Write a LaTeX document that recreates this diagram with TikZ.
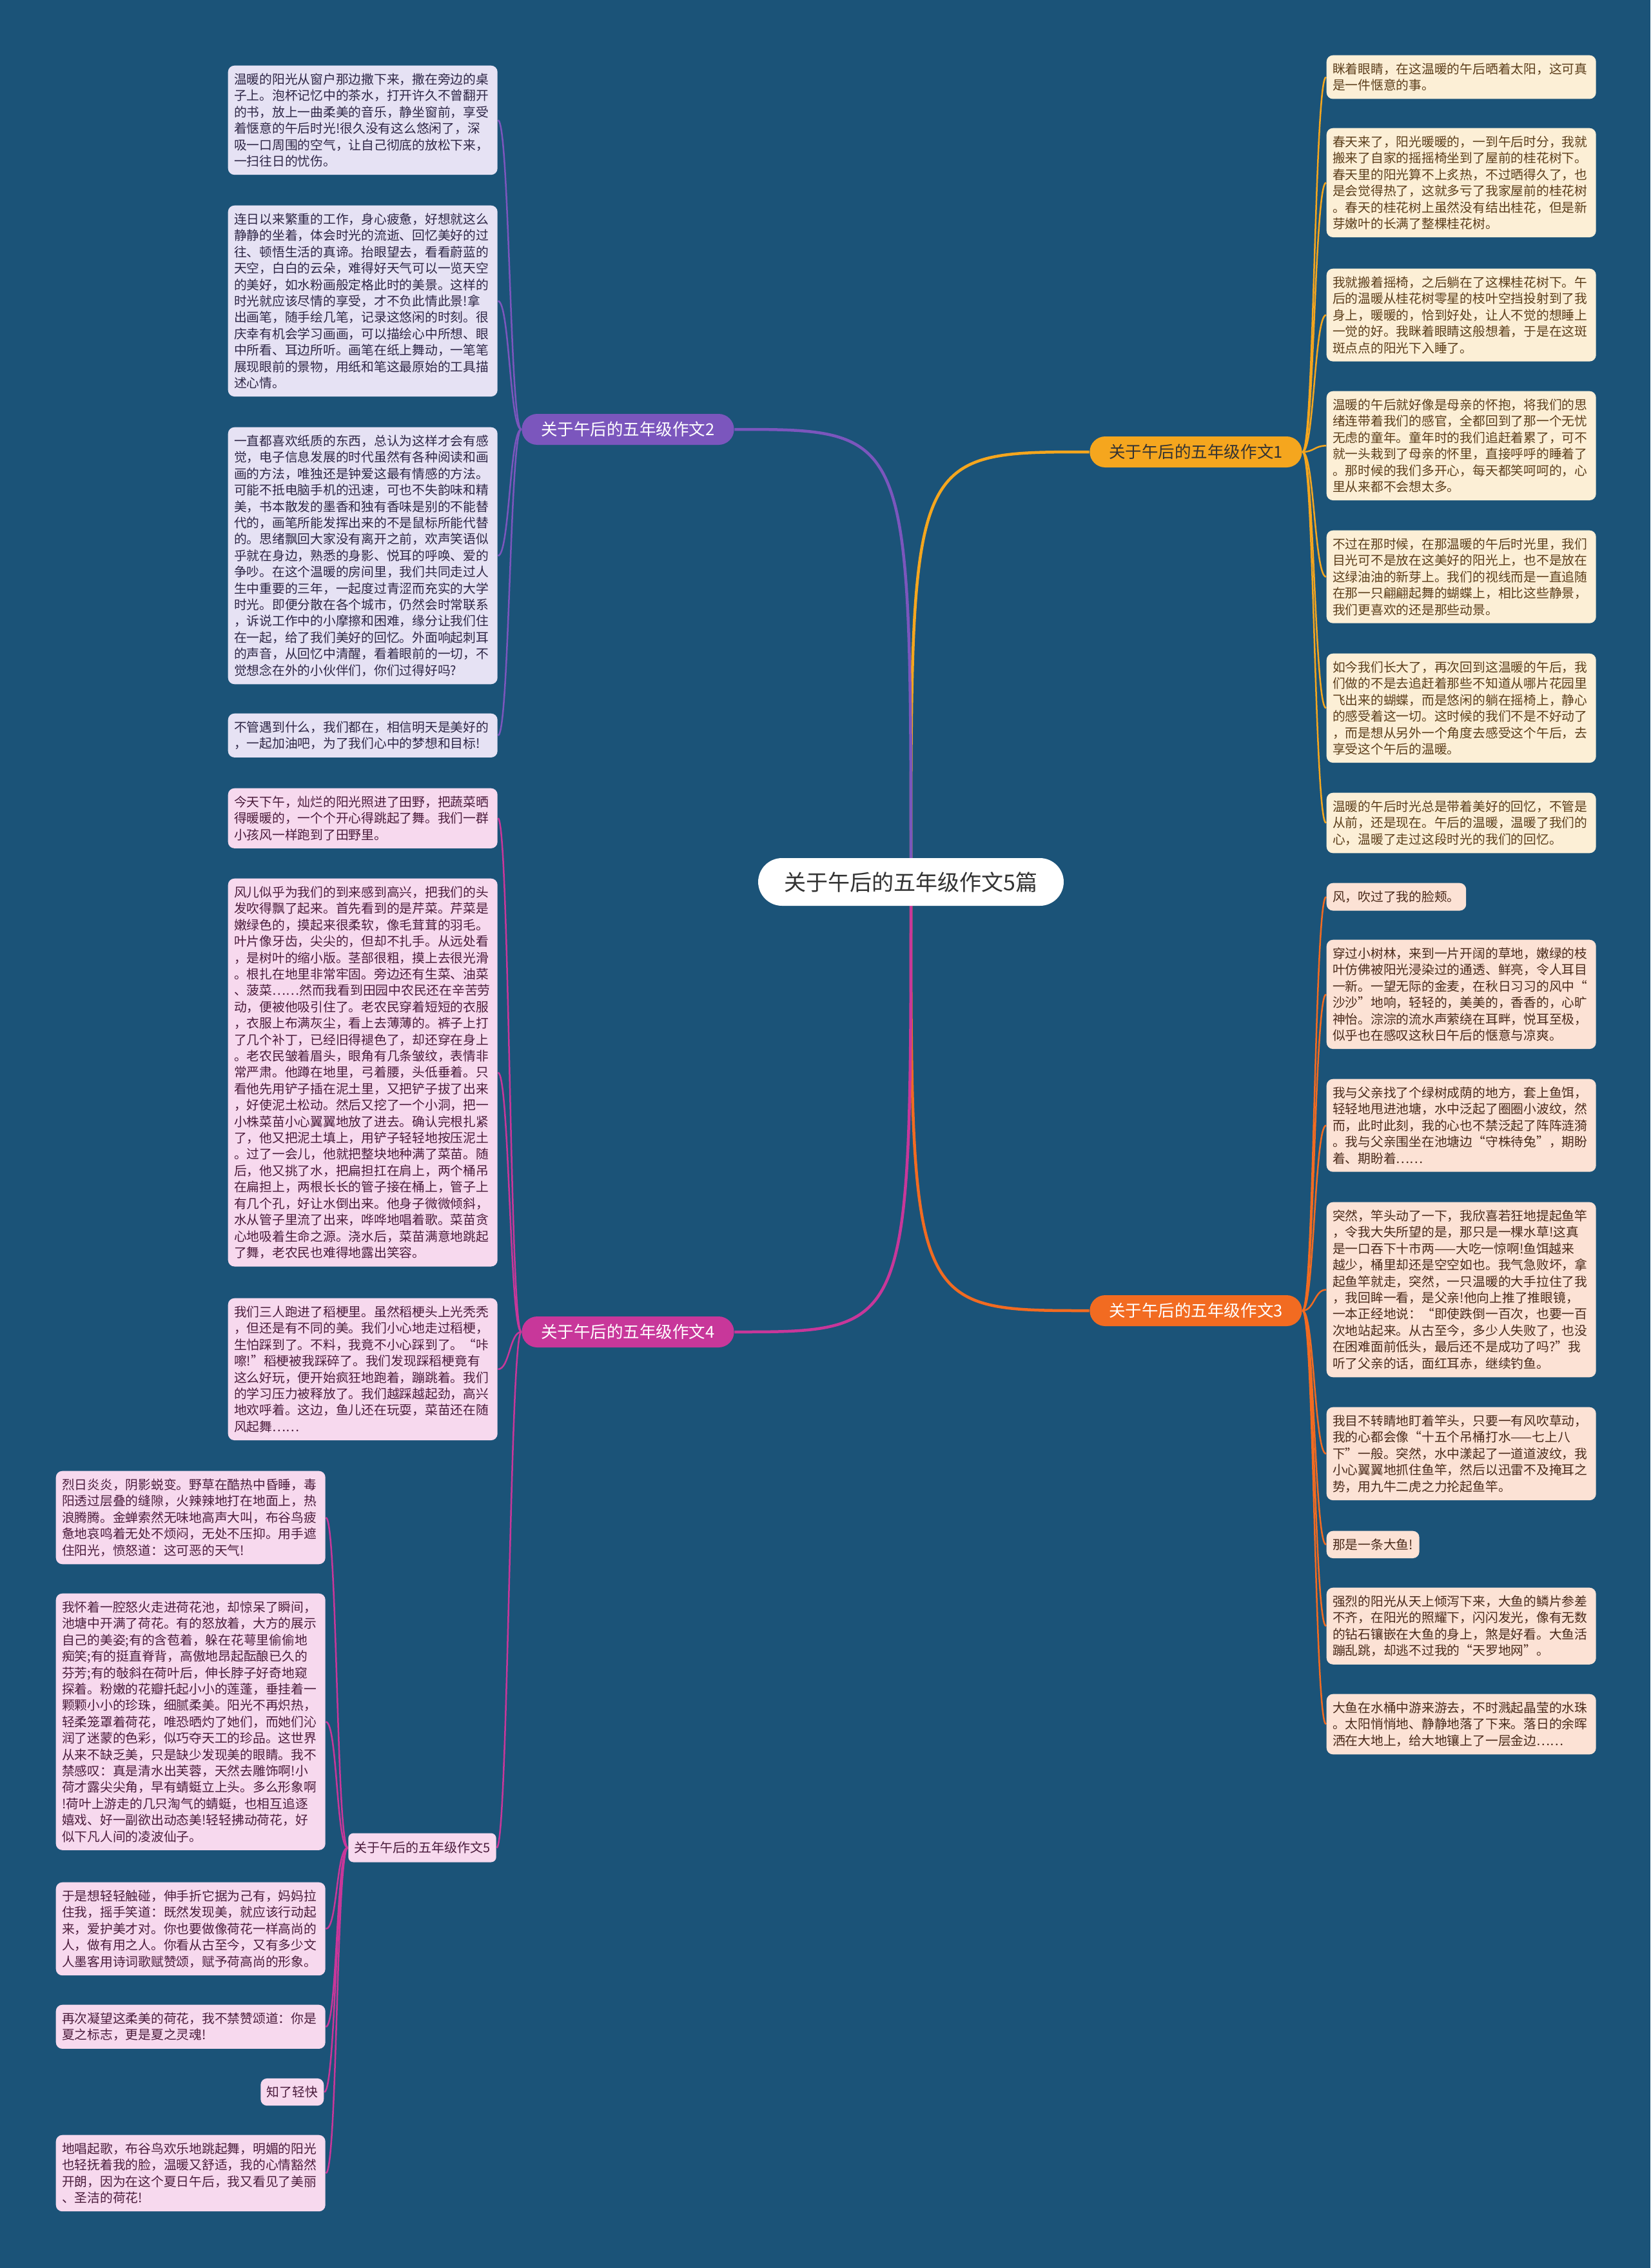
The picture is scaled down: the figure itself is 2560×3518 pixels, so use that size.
\documentclass[tikz,border=0pt]{standalone}
\usepackage{fontspec}
\setmainfont{Noto Sans CJK SC}
\usetikzlibrary{backgrounds}
\definecolor{bgblue}{RGB}{27,83,120}
\definecolor{gold}{RGB}{245,166,30}
\definecolor{cream}{RGB}{252,239,214}
\definecolor{brownA}{RGB}{92,62,27}
\definecolor{tangerine}{RGB}{242,107,33}
\definecolor{peach}{RGB}{252,226,213}
\definecolor{brownC}{RGB}{74,42,26}
\definecolor{violet}{RGB}{123,86,189}
\definecolor{lavender}{RGB}{230,226,244}
\definecolor{inkB}{RGB}{46,38,70}
\definecolor{berry}{RGB}{200,55,154}
\definecolor{blush}{RGB}{247,217,238}
\definecolor{inkD}{RGB}{75,28,60}
\newcommand\leaffont{\fontsize{5.62pt}{7.23pt}\selectfont}
\tikzset{
  leaf/.style={rounded corners=1mm, inner xsep=0.95mm, inner ysep=1.2mm, align=left, font=\leaffont},
  wide/.style={text width=39.9mm},
  leaf1/.style={leaf, fill=cream, text=brownA},
  leaf2/.style={leaf, fill=lavender, text=inkB},
  leaf3/.style={leaf, fill=peach, text=brownC},
  leaf4/.style={leaf, fill=blush, text=inkD},
  topic/.style={rounded corners=2.4mm, minimum height=4.8mm, inner xsep=3mm, inner ysep=0.5mm, font=\fontsize{7.26pt}{8pt}\selectfont},
  link/.style={line width=0.25mm},
  trunk/.style={line width=0.45mm}
}

\begin{document}
\begin{tikzpicture}[x=0.1mm, y=-0.1mm]
    \useasboundingbox (0,0) rectangle (2560,3518);
    \begin{scope}[on background layer]
    \fill[bgblue] (0,0) rectangle (2560,3518);
    \end{scope}
    \node[fill=white, text={rgb,255:red,51;green,51;blue,51}, rounded corners=3.7mm, minimum height=7.4mm, inner xsep=4mm, font=\fontsize{9.7pt}{11pt}\selectfont] (M) at (1413,1368) {关于午后的五年级作文5篇};
    \node[topic, fill=gold, text=black!80] (T1) at (1855,701) {关于午后的五年级作文1};
    \node[topic, fill=violet, text=white] (T2) at (974,666) {关于午后的五年级作文2};
    \node[topic, fill=tangerine, text=white] (T3) at (1855,2033) {关于午后的五年级作文3};
    \node[topic, fill=berry, text=white] (T4) at (974,2066) {关于午后的五年级作文4};
    \node[fill=blush, text=inkD, rounded corners=0.8mm, minimum height=4.5mm, inner xsep=0.9mm, font=\fontsize{5.7pt}{6.5pt}\selectfont] (T5) at (655,2866) {关于午后的五年级作文5};
    \node[leaf1, wide, anchor=north west] (A1) at (2057,85) {眯着眼睛，在这温暖的午后晒着太阳，这可真\\是一件惬意的事。};
    \node[leaf1, wide, anchor=north west] (A2) at (2057,198) {春天来了，阳光暖暖的，一到午后时分，我就\\搬来了自家的摇摇椅坐到了屋前的桂花树下。\\春天里的阳光算不上炙热，不过晒得久了，也\\是会觉得热了，这就多亏了我家屋前的桂花树\\。春天的桂花树上虽然没有结出桂花，但是新\\芽嫩叶的长满了整棵桂花树。};
    \node[leaf1, wide, anchor=north west] (A3) at (2057,416) {我就搬着摇椅，之后躺在了这棵桂花树下。午\\后的温暖从桂花树零星的枝叶空挡投射到了我\\身上，暖暖的，恰到好处，让人不觉的想睡上\\一觉的好。我眯着眼睛这般想着，于是在这斑\\斑点点的阳光下入睡了。};
    \node[leaf1, wide, anchor=north west] (A4) at (2057,606) {温暖的午后就好像是母亲的怀抱，将我们的思\\绪连带着我们的感官，全都回到了那一个无忧\\无虑的童年。童年时的我们追赶着累了，可不\\就一头栽到了母亲的怀里，直接呼呼的睡着了\\。那时候的我们多开心，每天都笑呵呵的，心\\里从来都不会想太多。};
    \node[leaf1, wide, anchor=north west] (A5) at (2057,822) {不过在那时候，在那温暖的午后时光里，我们\\目光可不是放在这美好的阳光上，也不是放在\\这绿油油的新芽上。我们的视线而是一直追随\\在那一只翩翩起舞的蝴蝶上，相比这些静景，\\我们更喜欢的还是那些动景。};
    \node[leaf1, wide, anchor=north west] (A6) at (2057,1013) {如今我们长大了，再次回到这温暖的午后，我\\们做的不是去追赶着那些不知道从哪片花园里\\飞出来的蝴蝶，而是悠闲的躺在摇椅上，静心\\的感受着这一切。这时候的我们不是不好动了\\，而是想从另外一个角度去感受这个午后，去\\享受这个午后的温暖。};
    \node[leaf1, wide, anchor=north west] (A7) at (2057,1229) {温暖的午后时光总是带着美好的回忆，不管是\\从前，还是现在。午后的温暖，温暖了我们的\\心，温暖了走过这段时光的我们的回忆。};
    \node[leaf3, anchor=north west] (C1) at (2057,1369) {风，吹过了我的脸颊。};
    \node[leaf3, wide, anchor=north west] (C2) at (2057,1457) {穿过小树林，来到一片开阔的草地，嫩绿的枝\\叶仿佛被阳光浸染过的通透、鲜亮，令人耳目\\一新。一望无际的金麦，在秋日习习的风中“\\沙沙”地响，轻轻的，美美的，香香的，心旷\\神怡。淙淙的流水声萦绕在耳畔，悦耳至极，\\似乎也在感叹这秋日午后的惬意与凉爽。};
    \node[leaf3, wide, anchor=north west] (C3) at (2057,1673) {我与父亲找了个绿树成荫的地方，套上鱼饵，\\轻轻地甩进池塘，水中泛起了圈圈小波纹，然\\而，此时此刻，我的心也不禁泛起了阵阵涟漪\\。我与父亲围坐在池塘边“守株待兔”，期盼\\着、期盼着……};
    \node[leaf3, wide, anchor=north west] (C4) at (2057,1864) {突然，竿头动了一下，我欣喜若狂地提起鱼竿\\，令我大失所望的是，那只是一棵水草!这真\\是一口吞下十市两——大吃一惊啊!鱼饵越来\\越少，桶里却还是空空如也。我气急败坏，拿\\起鱼竿就走，突然，一只温暖的大手拉住了我\\，我回眸一看，是父亲!他向上推了推眼镜，\\一本正经地说：“即使跌倒一百次，也要一百\\次地站起来。从古至今，多少人失败了，也没\\在困难面前低头，最后还不是成功了吗?”我\\听了父亲的话，面红耳赤，继续钓鱼。};
    \node[leaf3, wide, anchor=north west] (C5) at (2057,2182) {我目不转睛地盯着竿头，只要一有风吹草动，\\我的心都会像“十五个吊桶打水——七上八\\下”一般。突然，水中漾起了一道道波纹，我\\小心翼翼地抓住鱼竿，然后以迅雷不及掩耳之\\势，用九牛二虎之力抡起鱼竿。};
    \node[leaf3, anchor=north west] (C6) at (2057,2374) {那是一条大鱼!};
    \node[leaf3, wide, anchor=north west] (C7) at (2057,2462) {强烈的阳光从天上倾泻下来，大鱼的鳞片参差\\不齐，在阳光的照耀下，闪闪发光，像有无数\\的钻石镶嵌在大鱼的身上，煞是好看。大鱼活\\蹦乱跳，却逃不过我的“天罗地网”。};
    \node[leaf3, wide, anchor=north west] (C8) at (2057,2627) {大鱼在水桶中游来游去，不时溅起晶莹的水珠\\。太阳悄悄地、静静地落了下来。落日的余晖\\洒在大地上，给大地镶上了一层金边……};
    \node[leaf2, wide, anchor=north west] (B1) at (353,101) {温暖的阳光从窗户那边撒下来，撒在旁边的桌\\子上。泡杯记忆中的茶水，打开许久不曾翻开\\的书，放上一曲柔美的音乐，静坐窗前，享受\\着惬意的午后时光!很久没有这么悠闲了，深\\吸一口周围的空气，让自己彻底的放松下来，\\一扫往日的忧伤。};
    \node[leaf2, wide, anchor=north west] (B2) at (353,318) {连日以来繁重的工作，身心疲惫，好想就这么\\静静的坐着，体会时光的流逝、回忆美好的过\\往、顿悟生活的真谛。抬眼望去，看看蔚蓝的\\天空，白白的云朵，难得好天气可以一览天空\\的美好，如水粉画般定格此时的美景。这样的\\时光就应该尽情的享受，才不负此情此景!拿\\出画笔，随手绘几笔，记录这悠闲的时刻。很\\庆幸有机会学习画画，可以描绘心中所想、眼\\中所看、耳边所听。画笔在纸上舞动，一笔笔\\展现眼前的景物，用纸和笔这最原始的工具描\\述心情。};
    \node[leaf2, wide, anchor=north west] (B3) at (353,662) {一直都喜欢纸质的东西，总认为这样才会有感\\觉，电子信息发展的时代虽然有各种阅读和画\\画的方法，唯独还是钟爱这最有情感的方法。\\可能不抵电脑手机的迅速，可也不失韵味和精\\美，书本散发的墨香和独有香味是别的不能替\\代的，画笔所能发挥出来的不是鼠标所能代替\\的。思绪飘回大家没有离开之前，欢声笑语似\\乎就在身边，熟悉的身影、悦耳的呼唤、爱的\\争吵。在这个温暖的房间里，我们共同走过人\\生中重要的三年，一起度过青涩而充实的大学\\时光。即便分散在各个城市，仍然会时常联系\\，诉说工作中的小摩擦和困难，缘分让我们住\\在一起，给了我们美好的回忆。外面响起刺耳\\的声音，从回忆中清醒，看着眼前的一切，不\\觉想念在外的小伙伴们，你们过得好吗?};
    \node[leaf2, wide, anchor=north west] (B4) at (353,1106) {不管遇到什么，我们都在，相信明天是美好的\\，一起加油吧，为了我们心中的梦想和目标!};
    \node[leaf4, wide, anchor=north west] (D1) at (353,1222) {今天下午，灿烂的阳光照进了田野，把蔬菜晒\\得暖暖的，一个个开心得跳起了舞。我们一群\\小孩风一样跑到了田野里。};
    \node[leaf4, wide, anchor=north west] (D2) at (353,1362) {风儿似乎为我们的到来感到高兴，把我们的头\\发吹得飘了起来。首先看到的是芹菜。芹菜是\\嫩绿色的，摸起来很柔软，像毛茸茸的羽毛。\\叶片像牙齿，尖尖的，但却不扎手。从远处看\\，是树叶的缩小版。茎部很粗，摸上去很光滑\\。根扎在地里非常牢固。旁边还有生菜、油菜\\、菠菜……然而我看到田园中农民还在辛苦劳\\动，便被他吸引住了。老农民穿着短短的衣服\\，衣服上布满灰尘，看上去薄薄的。裤子上打\\了几个补丁，已经旧得褪色了，却还穿在身上\\。老农民皱着眉头，眼角有几条皱纹，表情非\\常严肃。他蹲在地里，弓着腰，头低垂着。只\\看他先用铲子插在泥土里，又把铲子拔了出来\\，好使泥土松动。然后又挖了一个小洞，把一\\小株菜苗小心翼翼地放了进去。确认完根扎紧\\了，他又把泥土填上，用铲子轻轻地按压泥土\\。过了一会儿，他就把整块地种满了菜苗。随\\后，他又挑了水，把扁担扛在肩上，两个桶吊\\在扁担上，两根长长的管子接在桶上，管子上\\有几个孔，好让水倒出来。他身子微微倾斜，\\水从管子里流了出来，哗哗地唱着歌。菜苗贪\\心地吸着生命之源。浇水后，菜苗满意地跳起\\了舞，老农民也难得地露出笑容。};
    \node[leaf4, wide, anchor=north west] (D3) at (353,2013) {我们三人跑进了稻梗里。虽然稻梗头上光秃秃\\，但还是有不同的美。我们小心地走过稻梗，\\生怕踩到了。不料，我竟不小心踩到了。“咔\\嚓!”稻梗被我踩碎了。我们发现踩稻梗竟有\\这么好玩，便开始疯狂地跑着，蹦跳着。我们\\的学习压力被释放了。我们越踩越起劲，高兴\\地欢呼着。这边，鱼儿还在玩耍，菜苗还在随\\风起舞……};
    \node[leaf4, wide, anchor=north west] (E1) at (86,2281) {烈日炎炎，阴影蜕变。野草在酷热中昏睡，毒\\阳透过层叠的缝隙，火辣辣地打在地面上，热\\浪腾腾。金蝉索然无味地高声大叫，布谷鸟疲\\惫地哀鸣着无处不烦闷，无处不压抑。用手遮\\住阳光，愤怒道：这可恶的天气!};
    \node[leaf4, wide, anchor=north west] (E2) at (86,2471) {我怀着一腔怒火走进荷花池，却惊呆了瞬间，\\池塘中开满了荷花。有的怒放着，大方的展示\\自己的美姿;有的含苞着，躲在花萼里偷偷地\\痴笑;有的挺直脊背，高傲地昂起酝酿已久的\\芬芳;有的敧斜在荷叶后，伸长脖子好奇地窥\\探着。粉嫩的花瓣托起小小的莲蓬，垂挂着一\\颗颗小小的珍珠，细腻柔美。阳光不再炽热，\\轻柔笼罩着荷花，唯恐晒灼了她们，而她们沁\\润了迷蒙的色彩，似巧夺天工的珍品。这世界\\从来不缺乏美，只是缺少发现美的眼睛。我不\\禁感叹：真是清水出芙蓉，天然去雕饰啊!小\\荷才露尖尖角，早有蜻蜓立上头。多么形象啊\\!荷叶上游走的几只淘气的蜻蜓，也相互追逐\\嬉戏、好一副欲出动态美!轻轻拂动荷花，好\\似下凡人间的凌波仙子。};
    \node[leaf4, wide, anchor=north west] (E3) at (86,2919) {于是想轻轻触碰，伸手折它据为己有，妈妈拉\\住我，摇手笑道：既然发现美，就应该行动起\\来，爱护美才对。你也要做像荷花一样高尚的\\人，做有用之人。你看从古至今，又有多少文\\人墨客用诗词歌赋赞颂，赋予荷高尚的形象。};
    \node[leaf4, wide, anchor=north west] (E4) at (86,3109) {再次凝望这柔美的荷花，我不禁赞颂道：你是\\夏之标志，更是夏之灵魂!};
    \node[leaf4, anchor=east] (E5) at (503,3245) {知了轻快};
    \node[leaf4, wide, anchor=north west] (E6) at (86,3311) {地唱起歌，布谷鸟欢乐地跳起舞，明媚的阳光\\也轻抚着我的脸，温暖又舒适，我的心情豁然\\开朗，因为在这个夏日午后，我又看见了美丽\\、圣洁的荷花!};
    \begin{scope}[on background layer]
    \draw[trunk, gold] (M.center) .. controls (M.center |- T1.west) .. (T1.west);
    \draw[trunk, violet] (M.center) .. controls (M.center |- T2.east) .. (T2.east);
    \draw[trunk, tangerine] (M.center) .. controls (M.center |- T3.west) .. (T3.west);
    \draw[trunk, berry] (M.center) .. controls (M.center |- T4.east) .. (T4.east);
    \foreach \n in {1,...,7}
    \draw[link, gold] (T1.east) .. controls +(18,0) and +(-18,0) .. (A\n.west);
    \foreach \n in {1,...,8}
    \draw[link, tangerine] (T3.east) .. controls +(18,0) and +(-18,0) .. (C\n.west);
    \foreach \n in {1,...,4}
    \draw[link, violet] (T2.west) .. controls +(-18,0) and +(18,0) .. (B\n.east);
    \foreach \n in {1,...,3}
    \draw[link, berry] (T4.west) .. controls +(-18,0) and +(18,0) .. (D\n.east);
    \draw[link, berry] (T4.west) .. controls +(-18,0) and +(18,0) .. (T5.east);
    \foreach \n in {1,...,6}
    \draw[link, berry] (T5.west) .. controls +(-18,0) and +(18,0) .. (E\n.east);
    \end{scope}
\end{tikzpicture}
\end{document}
